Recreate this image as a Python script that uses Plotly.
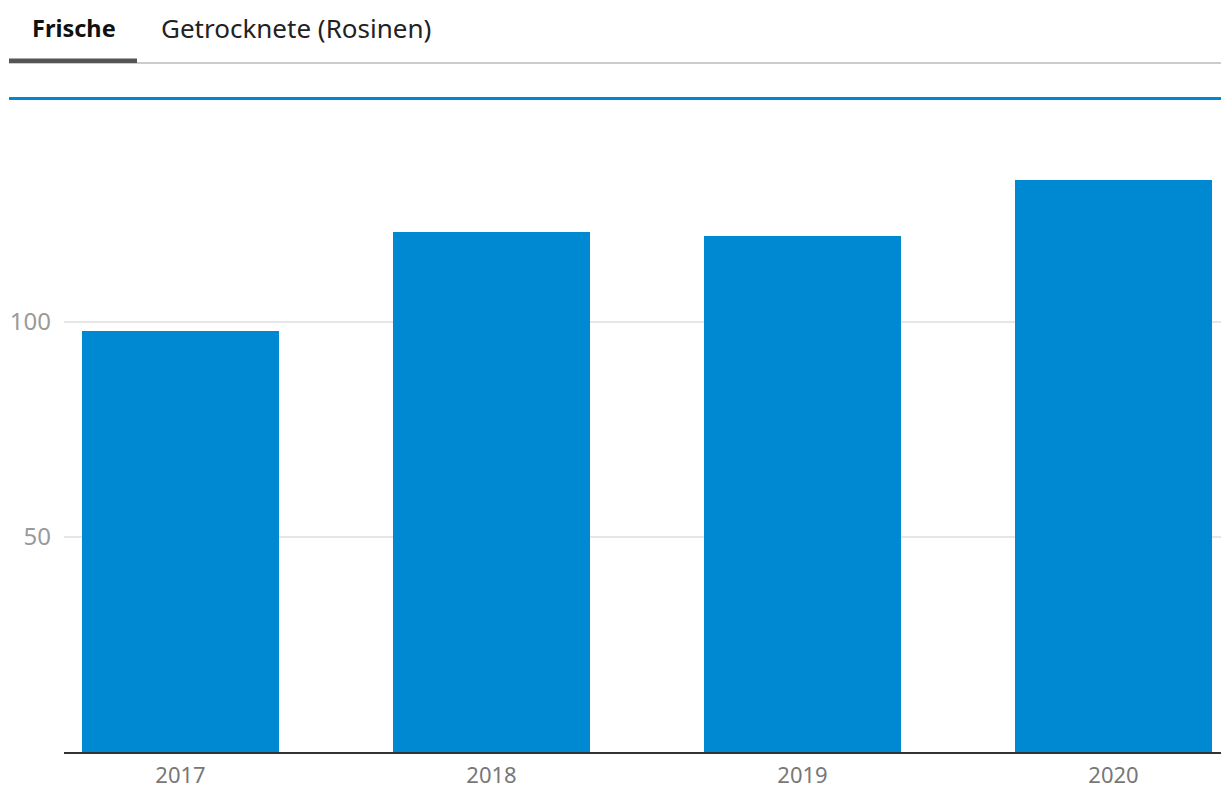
import plotly.graph_objects as go

years = ["2017", "2018", "2019", "2020"]
values = [98, 121, 120, 133]
tabs = ["Frische", "Getrocknete (Rosinen)"]
y_ticks = [50, 100]

W, H = 1221, 791
L, R, T, B = 64, 0, 130, 39
plot_w = W - L - R
plot_h = H - T - B

def px(x):
    return (x - L) / plot_w

def py(y):
    return (H - B - y) / plot_h

fig = go.Figure()
fig.add_trace(go.Bar(
    x=years, y=values, width=0.6334,
    marker=dict(color="#0089D3", line=dict(width=0)),
    hoverinfo="x+y",
))

shapes = [
    # blue rule
    dict(type="rect", xref="paper", yref="paper", x0=px(9), x1=px(1221), y0=py(100), y1=py(97),
         fillcolor="#0089D3", line=dict(width=0), layer="above"),
    # light tab rule
    dict(type="rect", xref="paper", yref="paper", x0=px(9), x1=px(1221), y0=py(64), y1=py(62),
         fillcolor="#CCCCCC", line=dict(width=0), layer="above"),
    # active tab underline
    dict(type="rect", xref="paper", yref="paper", x0=px(9), x1=px(137), y0=py(63), y1=py(58.5),
         fillcolor="#555555", line=dict(width=0), layer="above"),
]

annotations = [
    dict(text="<b>" + tabs[0] + "</b>", xref="paper", yref="paper", x=px(73.5), y=py(28),
         xanchor="center", yanchor="middle", showarrow=False,
         font=dict(family="Noto Sans", size=23.5, color="#111111")),
    dict(text=tabs[1], xref="paper", yref="paper", x=px(296), y=py(28),
         xanchor="center", yanchor="middle", showarrow=False,
         font=dict(family="Noto Sans", size=26, color="#222222")),
]

fig.update_layout(
    width=W, height=H,
    margin=dict(l=L, r=R, t=T, b=B, pad=0),
    paper_bgcolor="white", plot_bgcolor="white",
    showlegend=False,
    shapes=shapes, annotations=annotations,
    font=dict(family="Noto Sans"),
    xaxis=dict(
        type="category", range=[-0.3746, 3.3457], automargin=False,
        showgrid=False, showline=True, linecolor="#333333", linewidth=2,
        ticks="", tickfont=dict(size=22, color="#777777"),
        ticklabelstandoff=3, zeroline=False,
    ),
    yaxis=dict(
        range=[0, plot_h / 4.3], automargin=False,
        tickvals=y_ticks, ticktext=[str(v) for v in y_ticks],
        showgrid=True, gridcolor="#E6E6E6", gridwidth=2,
        showline=False, zeroline=False, ticks="",
        tickfont=dict(size=24, color="#9A9A9A"),
        ticklabelstandoff=12,
    ),
    bargap=0,
)

fig.write_html("out.html")
